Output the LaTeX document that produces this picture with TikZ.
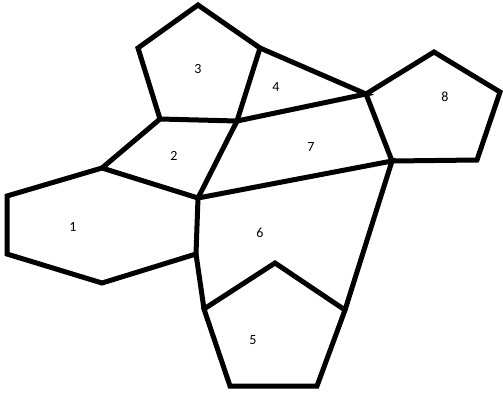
\documentclass[tikz,border=0pt]{standalone}
\usepackage{fontspec}
\setmainfont{Carlito}
\usetikzlibrary{positioning}

\begin{document}
\begin{tikzpicture}[
		x=1pt, y=-1pt
		,face/.style={font=\fontsize{14}{14}\selectfont, inner sep=0pt}
		,wall/.style={line width=5pt}
	]
		\useasboundingbox (0,0) rectangle (503,392);

		% vertices
		\coordinate (p3a) at (198,5);
		\coordinate (p3l) at (138,48);
		\coordinate (p3r) at (260,48);
		\coordinate (p3bl) at (160,119);
		\coordinate (p3br) at (237,121);
		\coordinate (h1t) at (102,168);
		\coordinate (h1lt) at (7,196);
		\coordinate (h1lb) at (7,254);
		\coordinate (h1b) at (102,283);
		\coordinate (h1rb) at (196,254);
		\coordinate (h1rt) at (198,198);
		\coordinate (p8l) at (366,94);
		\coordinate (p8t) at (434,52);
		\coordinate (p8r) at (500,92);
		\coordinate (p8br) at (477,160);
		\coordinate (p8bl) at (392,161);
		\coordinate (p5l) at (204,309);
		\coordinate (p5a) at (275,263);
		\coordinate (p5r) at (345,310);
		\coordinate (p5br) at (317,386);
		\coordinate (p5bl) at (230,386);

		% faces
		\node[face] (f1) at (73,227) {1};
		\node[face] (f2) at (174,156) {2};
		\node[face] (f3) at (198,69) {3};
		\node[face] (f4) at (276,87) {4};
		\node[face] (f5) at (253,340) {5};
		\node[face] (f6) at (260,233) {6};
		\node[face] (f7) at (311,147) {7};
		\node[face] (f8) at (445,97) {8};

		\draw[wall] (p3a) -- (p3l) -- (p3bl) -- (p3br) -- (p3r) -- cycle;
		\draw[wall] (p3r) -- (p8l) -- (p3br);
		\draw[wall] (p3bl) -- (h1t);
		\draw[wall] (p3br) -- (h1rt);
		\draw[wall] (h1t) -- (h1lt) -- (h1lb) -- (h1b) -- (h1rb) -- (h1rt) -- cycle;
		\draw[wall] (p8l) -- (p8t) -- (p8r) -- (p8br) -- (p8bl) -- cycle;
		\draw[wall] (h1rt) -- (p8bl) -- (p5r);
		\draw[wall] (h1rb) -- (p5l);
		\draw[wall] (p5l) -- (p5a) -- (p5r) -- (p5br) -- (p5bl) -- cycle;
	\end{tikzpicture}
\end{document}
